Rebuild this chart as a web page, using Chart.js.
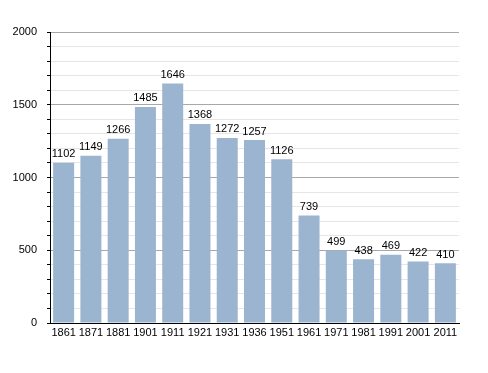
<!DOCTYPE html>
<html>
<head>
<meta charset="utf-8">
<script src="https://cdn.jsdelivr.net/npm/chart.js@4/dist/chart.umd.min.js"></script>
<style>
  html, body { margin: 0; padding: 0; background: #fff; }
  #wrap { width: 488px; height: 373px; }
</style>
</head>
<body>
<div id="wrap"><canvas id="chart"></canvas></div>
<script>
const years = ['1861', '1871', '1881', '1901', '1911', '1921', '1931', '1936', '1951', '1961', '1971', '1981', '1991', '2001', '2011'];
const population = [1102, 1149, 1266, 1485, 1646, 1368, 1272, 1257, 1126, 739, 499, 438, 469, 422, 410];
const yTicks = [0, 500, 1000, 1500, 2000];

const barColor = '#9bb4d0';

// write the value above every bar
const valueLabels = {
  id: 'valueLabels',
  afterDatasetsDraw(chart) {
    const { ctx } = chart;
    const meta = chart.getDatasetMeta(0);
    ctx.save();
    ctx.font = '11px "Liberation Sans", Arial, sans-serif';
    ctx.fillStyle = '#000';
    ctx.textAlign = 'center';
    ctx.textBaseline = 'bottom';
    meta.data.forEach((bar, i) => {
      ctx.fillText(String(chart.data.datasets[0].data[i]), bar.x, bar.y - 3);
    });
    ctx.restore();
  },
};

const config = {
  type: 'bar',
  data: {
    labels: years,
    datasets: [
      {
        label: 'Population',
        data: population,
        backgroundColor: barColor,
        barPercentage: 0.77,
        categoryPercentage: 1,
      },
    ],
  },
  options: {
    responsive: false,
    animation: false,
    layout: {
      padding: { left: 0, right: 29, top: 32, bottom: 0 },
    },
    scales: {
      x: {
        grid: { display: false, drawTicks: false },
        border: { color: '#000', width: 1 },
        ticks: {
          color: '#000',
          font: { family: '"Liberation Sans", Arial, sans-serif', size: 11 },
          padding: 3,
          maxRotation: 0,
          autoSkip: false,
        },
        afterFit: (scale) => { scale.height = 50; },
      },
      y: {
        min: 0,
        max: 2000,
        ticks: {
          stepSize: 100,
          autoSkip: false,
          maxTicksLimit: 30,
          color: '#000',
          font: { family: '"Liberation Sans", Arial, sans-serif', size: 11 },
          padding: 10,
          callback: (v) => (yTicks.includes(v) ? String(v) : ''),
        },
        grid: {
          color: (c) => (c.tick && c.tick.value % 500 === 0 ? '#a8a8a8' : '#e6e6e6'),
          tickColor: '#000',
          tickLength: 3,
          drawOnChartArea: true,
        },
        border: { color: '#000', width: 1 },
        afterFit: (scale) => { scale.width = 50; },
      },
    },
    plugins: {
      legend: { display: false },
      tooltip: { enabled: false },
    },
  },
  plugins: [valueLabels],
};

const canvas = document.getElementById('chart');
canvas.width = 488;
canvas.height = 373;
new Chart(canvas, config);
</script>
</body>
</html>
